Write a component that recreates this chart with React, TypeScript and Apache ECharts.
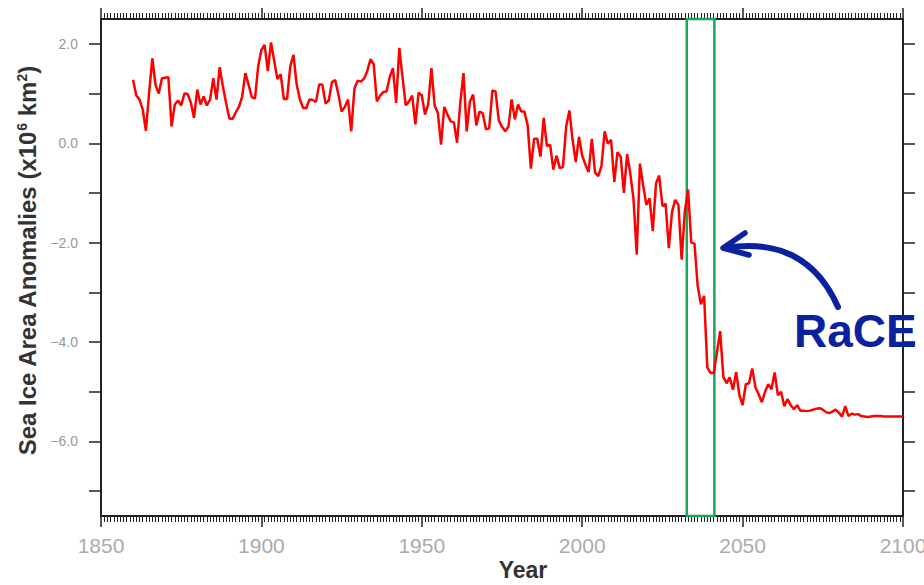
import React, { useEffect, useRef } from "react";
import * as echarts from "echarts";

// ---- data (annual sea-ice area anomalies, 10^6 km^2) ----
const FIRST_YEAR = 1860;
const anomalies1860to1909 = [
  1.28, 0.96, 0.88, 0.68, 0.25, 1.02, 1.71, 1.17, 1.0, 1.31,
  1.32, 1.33, 0.34, 0.78, 0.86, 0.76, 1.0, 0.99, 0.82, 0.51,
  1.08, 0.78, 0.94, 0.76, 0.88, 1.31, 0.88, 1.53, 1.14, 0.81,
  0.5, 0.49, 0.62, 0.73, 0.94, 1.41, 1.18, 0.93, 0.9, 1.55,
  1.88, 1.98, 1.45, 2.03, 1.65, 1.29, 1.39, 0.89, 0.89, 1.55,
];
const anomalies1910to1959 = [
  1.78, 1.18, 0.88, 0.71, 0.71, 0.88, 0.87, 0.83, 1.18, 1.18,
  0.8, 0.86, 1.23, 1.27, 0.98, 0.64, 0.73, 0.88, 0.24, 1.1,
  1.26, 1.24, 1.3, 1.45, 1.69, 1.59, 0.84, 0.96, 1.03, 1.04,
  1.33, 1.51, 0.81, 1.92, 1.32, 0.76, 0.84, 0.96, 0.38, 1.02,
  0.96, 0.58, 0.78, 1.51, 0.76, 0.61, -0.03, 0.73, 0.58, 0.44,
];
const anomalies1960to2009 = [
  0.42, 0.01, 0.81, 1.41, 0.24, 0.84, 0.98, 0.36, 0.64, 0.6,
  0.28, 0.3, 1.06, 1.04, 0.46, 0.33, 0.24, 0.33, 0.88, 0.48,
  0.78, 0.64, 0.64, 0.36, -0.51, 0.09, 0.09, -0.27, 0.51, -0.06,
  -0.03, -0.53, -0.25, -0.5, -0.48, 0.33, 0.66, 0.07, -0.38, 0.13,
  -0.25, -0.43, -0.58, 0.09, -0.59, -0.66, -0.46, 0.24, -0.01, 0.07,
];
const anomalies2010to2059 = [
  -0.78, -0.18, -0.27, -1.0, -0.22, -0.61, -1.13, -2.24, -0.41, -0.85,
  -1.24, -1.11, -1.77, -0.81, -0.65, -1.26, -1.22, -2.11, -1.38, -1.14,
  -1.24, -2.34, -1.37, -0.93, -2.0, -2.02, -2.87, -3.24, -3.07, -4.51,
  -4.62, -4.63, -4.21, -3.78, -4.7, -4.83, -4.71, -4.96, -4.6, -5.07,
  -5.27, -4.85, -4.83, -4.53, -4.91, -5.05, -5.21, -5.0, -4.85, -4.95,
];
const anomalies2060to2100 = [
  -4.61, -5.07, -5.0, -5.29, -5.15, -5.27, -5.35, -5.27, -5.38, -5.38,
  -5.39, -5.38, -5.36, -5.34, -5.33, -5.36, -5.41, -5.43, -5.4, -5.36,
  -5.42, -5.5, -5.29, -5.49, -5.44, -5.46, -5.45, -5.49, -5.5, -5.51,
  -5.5, -5.49, -5.49, -5.49, -5.5, -5.5, -5.5, -5.5, -5.5, -5.5,
  -5.5,
];

const X_MIN = 1850;
const X_MAX = 2100;
const X_INTERVAL = 50;
const Y_MIN = -7.5;
const Y_MAX = 2.5;
const yTickValues = [-7, -6, -5, -4, -3, -2, -1, 0, 1, 2];
const yLabelValues = [-6, -4, -2, 0, 2];
const raceWindow = [2032.6, 2041.2];
const annotationLabel = "RaCE";

const FONT = "'Liberation Sans', Arial, Helvetica, sans-serif";

export default function App() {
  const ref = useRef<HTMLDivElement>(null);

  useEffect(() => {
    if (!ref.current) return;
    const chart = echarts.init(ref.current, null, { renderer: "svg" });

    const values = [
      ...anomalies1860to1909,
      ...anomalies1910to1959,
      ...anomalies1960to2009,
      ...anomalies2010to2059,
      ...anomalies2060to2100,
    ];
    const seriesData = values.map((v, i) => [FIRST_YEAR + i, v]);

    const fmtY = (v: number) =>
      (v < 0 ? "\u2212" : "") + Math.abs(v).toFixed(1);

    const axisLine = { show: true, onZero: false, lineStyle: { color: "#222", width: 2 } };

    const baseX = {
      type: "value",
      min: X_MIN,
      max: X_MAX,
      interval: X_INTERVAL,
      axisLine,
      splitLine: { show: false },
      axisTick: { show: true, inside: false, length: 11, lineStyle: { color: "#222", width: 1.5 } },
      minorTick: { show: true, splitNumber: 50, length: 6, lineStyle: { color: "#222", width: 1 } },
      minorSplitLine: { show: false },
    };

    const baseY = {
      type: "value",
      min: Y_MIN,
      max: Y_MAX,
      axisLine,
      splitLine: { show: false },
      axisTick: {
        show: true,
        inside: false,
        length: 12,
        customValues: yTickValues,
        lineStyle: { color: "#222", width: 1.5 },
      },
    };

    chart.setOption({
      animation: false,
      backgroundColor: "#ffffff",
      grid: {
        left: 101,
        right: 21,
        top: 19,
        bottom: 69,
        containLabel: false,
        outerBoundsMode: "none",
      },
      xAxis: [
        {
          ...baseX,
          position: "bottom",
          axisLabel: {
            show: true,
            margin: 19,
            color: "#ababab",
            fontFamily: FONT,
            fontSize: 21,
            formatter: (v: number) => String(v),
          },
        },
        {
          ...baseX,
          position: "top",
          axisLabel: { show: false },
        },
      ],
      yAxis: [
        {
          ...baseY,
          position: "left",
          axisLabel: {
            show: true,
            margin: 23,
            color: "#999999",
            fontFamily: FONT,
            fontSize: 14,
            customValues: yLabelValues,
            formatter: fmtY,
          },
        },
        {
          ...baseY,
          position: "right",
          axisLabel: { show: false },
        },
      ],
      series: [
        {
          type: "line",
          data: seriesData,
          xAxisIndex: 0,
          yAxisIndex: 0,
          showSymbol: false,
          symbol: "none",
          lineStyle: { color: "#ff0000", width: 2.5 },
          z: 3,
          markArea: {
            silent: true,
            itemStyle: {
              color: "rgba(0,0,0,0)",
              borderColor: "#17a85a",
              borderWidth: 2.5,
            },
            data: [[{ xAxis: raceWindow[0] }, { xAxis: raceWindow[1] }]],
          },
        },
      ],
      graphic: [
        {
          type: "text",
          x: 27,
          y: 261,
          rotation: Math.PI / 2,
          style: {
            text: "Sea Ice Area Anomalies (x10{sup|6} km{sup|2})",
            fill: "#333333",
            fontFamily: FONT,
            fontWeight: "bold",
            fontSize: 24,
            align: "center",
            verticalAlign: "middle",
            rich: {
              sup: {
                fontSize: 14,
                fontWeight: "bold",
                fontFamily: FONT,
                fill: "#333333",
                verticalAlign: "top",
              },
            },
          },
        },
        {
          type: "text",
          x: 523,
          y: 570,
          style: {
            text: "Year",
            fill: "#333333",
            fontFamily: FONT,
            fontWeight: "bold",
            fontSize: 23,
            align: "center",
            verticalAlign: "middle",
          },
        },
        {
          type: "text",
          x: 794,
          y: 331,
          z: 10,
          style: {
            text: annotationLabel,
            fill: "#0b22a0",
            fontFamily: FONT,
            fontWeight: "bold",
            fontSize: 46,
            align: "left",
            verticalAlign: "middle",
          },
        },
        {
          type: "bezierCurve",
          z: 10,
          shape: { x1: 838, y1: 307, cpx1: 815, cpy1: 255, cpx2: 775, cpy2: 240, x2: 725, y2: 248 },
          style: { stroke: "#0b22a0", lineWidth: 6, fill: "none", lineCap: "round" },
        },
        {
          type: "polyline",
          z: 10,
          shape: { points: [[745, 233], [723, 248], [749, 255]] },
          style: { stroke: "#0b22a0", lineWidth: 5.5, fill: "none", lineCap: "round", lineJoin: "round" },
        },
      ],
    });

    return () => chart.dispose();
  }, []);

  return (
    <div
      ref={ref}
      style={{ position: "fixed", left: 0, top: 0, width: 924, height: 585, background: "#fff" }}
    />
  );
}
